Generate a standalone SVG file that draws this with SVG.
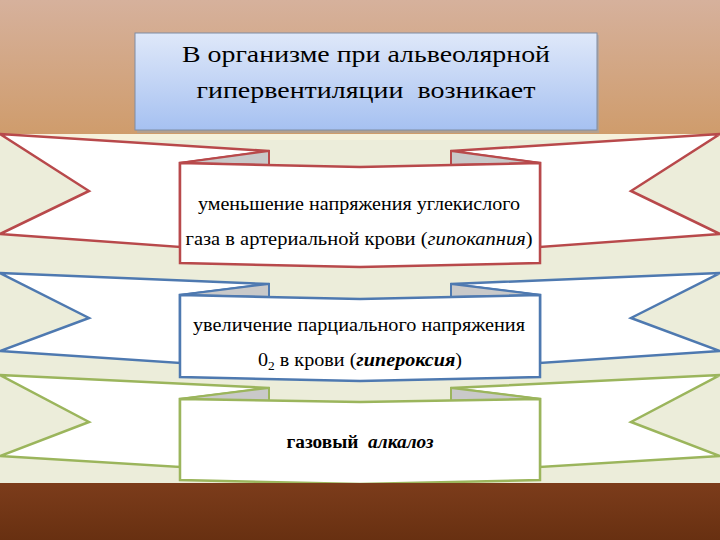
<svg xmlns="http://www.w3.org/2000/svg" width="720" height="540" viewBox="0 0 720 540">
<defs>
<linearGradient id="top" x1="0" y1="0" x2="0" y2="1">
<stop offset="0" stop-color="#d6b19c"/>
<stop offset="1" stop-color="#cf9c6c"/>
</linearGradient>
<linearGradient id="bot" x1="0" y1="0" x2="0" y2="1">
<stop offset="0" stop-color="#7c3c1b"/>
<stop offset="1" stop-color="#683011"/>
</linearGradient>
<linearGradient id="title" x1="0" y1="0" x2="0" y2="1">
<stop offset="0" stop-color="#dfe8f9"/>
<stop offset="1" stop-color="#a6c1f1"/>
</linearGradient>
<style>
.t{font-family:'Liberation Serif','Times New Roman',serif;fill:#000;}
.tail{fill:#fff;stroke-width:2.5;stroke-linejoin:miter;}
.fold{fill:#c9c9c9;stroke-width:2;}
.front{fill:#fff;stroke-width:2.5;}
.red{stroke:#b8494b;}
.blue{stroke:#4e79b0;}
.green{stroke:#9bb55c;}
</style>
</defs>
<rect x="0" y="0" width="720" height="134" fill="url(#top)"/>
<rect x="0" y="134" width="720" height="350" fill="#ecedda"/>
<rect x="0" y="134" width="720" height="6" fill="#f6f1dc"/>

<g id="title-box">
<rect x="137" y="35" width="462" height="98" fill="#9aa3b0" opacity="0.5"/>
<rect x="135" y="33" width="462" height="97" fill="url(#title)" stroke="#7f8ca3" stroke-width="1"/>
<text class="t" x="366" y="62" font-size="24" text-anchor="middle" textLength="368" lengthAdjust="spacingAndGlyphs">В организме при альвеолярной</text>
<text class="t" x="366" y="98" font-size="24" text-anchor="middle" textLength="339" lengthAdjust="spacingAndGlyphs" xml:space="preserve">гипервентиляции  возникает</text>
</g>

<g id="ribbon-red">
<polygon class="tail red" points="0,134 269,151 180,163 180,247 0,234 89,191"/>
<polygon class="tail red" points="720,134 451,151 540,163 540,247 720,234 631,191"/>
<polygon class="fold red" points="269,151 269,165 180,163"/>
<polygon class="fold red" points="451,151 451,165 540,163"/>
<polygon class="front red" points="180,163 360,167 540,163 540,263 360,267 180,263"/>
<text class="t" x="359" y="210" font-size="18" text-anchor="middle" textLength="322" lengthAdjust="spacingAndGlyphs">уменьшение напряжения углекислого</text>
<text class="t" x="359" y="245" font-size="18" text-anchor="middle" textLength="347" lengthAdjust="spacingAndGlyphs">газа в артериальной крови (<tspan font-style="italic">гипокапния</tspan>)</text>
</g>

<g id="ribbon-blue">
<polygon class="tail blue" points="0,273 269,284 180,295 180,363 0,351 89,318"/>
<polygon class="tail blue" points="720,273 451,284 540,295 540,363 720,351 631,318"/>
<polygon class="fold blue" points="269,284 269,297 180,295"/>
<polygon class="fold blue" points="451,284 451,297 540,295"/>
<polygon class="front blue" points="180,295 360,299 540,295 540,377 360,381 180,377"/>
<text class="t" x="359" y="331" font-size="18" text-anchor="middle" textLength="332" lengthAdjust="spacingAndGlyphs">увеличение парциального напряжения</text>
<text class="t" x="360" y="366" font-size="18" text-anchor="middle" textLength="204" lengthAdjust="spacingAndGlyphs">0<tspan font-size="12" dy="4">2</tspan><tspan dy="-4"> в крови (</tspan><tspan font-style="italic" font-weight="bold">гипероксия</tspan>)</text>
</g>

<g id="ribbon-green">
<polygon class="tail green" points="0,375 269,388 180,399 180,467 0,456 89,422"/>
<polygon class="tail green" points="720,375 451,388 540,399 540,467 720,456 631,422"/>
<polygon class="fold green" points="269,388 269,401 180,399"/>
<polygon class="fold green" points="451,388 451,401 540,399"/>
<polygon class="front green" points="180,399 360,402 540,399 540,480 360,484 180,480"/>
<text class="t" x="360" y="448" font-size="18" text-anchor="middle" font-weight="bold" textLength="147" lengthAdjust="spacingAndGlyphs" xml:space="preserve">газовый  <tspan font-style="italic">алкалоз</tspan></text>
</g>
<rect x="0" y="483" width="720" height="57" fill="url(#bot)"/>
<g id="connectors"/>
</svg>
